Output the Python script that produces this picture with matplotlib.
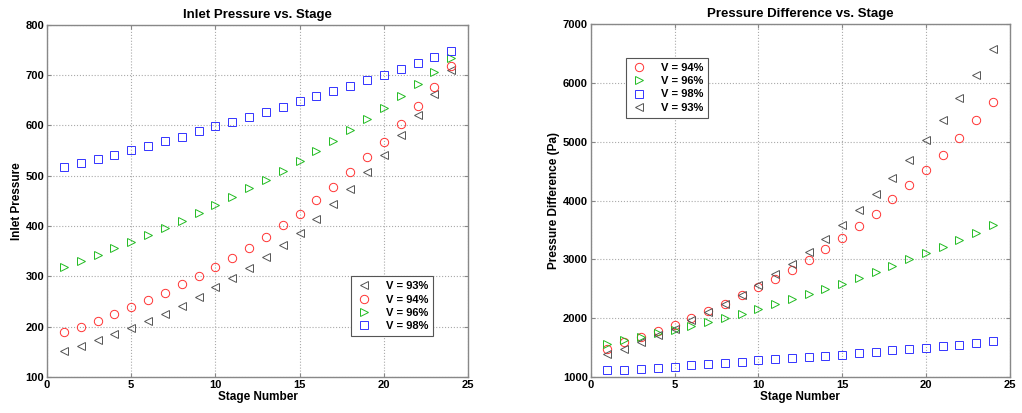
import matplotlib
matplotlib.use("Agg")
import matplotlib.pyplot as plt

stages = list(range(1, 25))

inlet_93 = [151, 161, 173, 186, 198, 211, 226, 242, 259, 278, 297, 317, 338, 363, 387, 414, 443, 474, 507, 542, 580, 621, 663, 710]
inlet_94 = [189, 200, 212, 225, 239, 253, 268, 284, 300, 318, 337, 357, 379, 402, 425, 451, 478, 507, 537, 568, 602, 639, 677, 718]
inlet_96 = [319, 331, 343, 356, 369, 383, 397, 411, 426, 442, 458, 475, 492, 510, 529, 549, 569, 590, 612, 634, 658, 682, 707, 733]
inlet_98 = [517, 525, 533, 542, 551, 560, 569, 578, 588, 598, 607, 617, 627, 637, 648, 658, 668, 679, 690, 701, 712, 724, 735, 748]

diff_93 = [1397, 1482, 1596, 1709, 1822, 1976, 2106, 2248, 2390, 2560, 2758, 2928, 3127, 3343, 3592, 3836, 4108, 4386, 4687, 5027, 5368, 5736, 6133, 6576]
diff_94 = [1482, 1596, 1681, 1777, 1890, 2004, 2123, 2248, 2390, 2531, 2673, 2826, 2997, 3184, 3371, 3575, 3779, 4018, 4256, 4511, 4772, 5067, 5368, 5680]
diff_96 = [1556, 1624, 1681, 1754, 1800, 1862, 1936, 2010, 2078, 2151, 2236, 2322, 2407, 2492, 2588, 2690, 2781, 2889, 3002, 3110, 3218, 3337, 3456, 3587]
diff_98 = [1113, 1125, 1142, 1159, 1176, 1199, 1216, 1238, 1255, 1284, 1301, 1318, 1340, 1363, 1380, 1408, 1431, 1454, 1471, 1494, 1527, 1545, 1573, 1607]

labels = ["V = 93%", "V = 94%", "V = 96%", "V = 98%"]

plt.rcParams['font.family'] = ['Liberation Sans', 'DejaVu Sans']
plt.rcParams['font.weight'] = 'bold'

c93, c94, c96, c98 = '#555555', '#ff3333', '#22bb22', '#3333ff'
ms = 6
mew = 0.7

fig = plt.figure(figsize=(10.22, 4.13), dpi=100)
ax1 = fig.add_axes([0.046, 0.087, 0.412, 0.853])
ax2 = fig.add_axes([0.578, 0.087, 0.410, 0.855])

def style(ax):
    ax.grid(True, linestyle=':', color='#aaaaaa', linewidth=0.8)
    for s in ax.spines.values():
        s.set_color('#888888')
        s.set_linewidth(1.0)
    ax.tick_params(direction='in', labelsize=8, length=3, color='#888888',
                   top=True, right=True, pad=2)
    for lab in ax.get_xticklabels() + ax.get_yticklabels():
        lab.set_fontweight('bold')
    ax.set_xlim(0, 25)
    ax.set_xticks([0, 5, 10, 15, 20, 25])

kw = dict(linestyle='none', markerfacecolor='none', markersize=ms, markeredgewidth=mew)
ax1.plot(stages, inlet_93, marker='<', color=c93, label=labels[0], **kw)
ax1.plot(stages, inlet_94, marker='o', color=c94, label=labels[1], **kw)
ax1.plot(stages, inlet_96, marker='>', color=c96, label=labels[2], **kw)
ax1.plot(stages, inlet_98, marker='s', color=c98, label=labels[3], **kw)
ax1.set_ylim(100, 800)
ax1.set_yticks(range(100, 801, 100))
style(ax1)
ax1.set_title("Inlet Pressure vs. Stage", fontsize=9.5, fontweight='bold', pad=5)
ax1.set_xlabel("Stage Number", fontsize=8.5, fontweight='bold', labelpad=1)
ax1.set_ylabel("Inlet Pressure", fontsize=8.5, fontweight='bold', labelpad=2)
leg1 = ax1.legend(loc='lower right', bbox_to_anchor=(0.93, 0.1), fontsize=8, fancybox=False,
                  edgecolor='#555555', framealpha=1, handletextpad=1.2, borderpad=0.45,
                  labelspacing=0.3, handlelength=1.5)
leg1.get_frame().set_linewidth(0.8)

ax2.plot(stages, diff_94, marker='o', color=c94, label=labels[1], **kw)
ax2.plot(stages, diff_96, marker='>', color=c96, label=labels[2], **kw)
ax2.plot(stages, diff_98, marker='s', color=c98, label=labels[3], **kw)
ax2.plot(stages, diff_93, marker='<', color=c93, label=labels[0], **kw)
ax2.set_ylim(1000, 7000)
ax2.set_yticks(range(1000, 7001, 1000))
style(ax2)
ax2.set_title("Pressure Difference vs. Stage", fontsize=9.5, fontweight='bold', pad=5)
ax2.set_xlabel("Stage Number", fontsize=8.5, fontweight='bold', labelpad=1)
ax2.set_ylabel("Pressure Difference (Pa)", fontsize=8.5, fontweight='bold', labelpad=2)
leg2 = ax2.legend(loc='upper left', bbox_to_anchor=(0.07, 0.92), fontsize=8, fancybox=False,
                  edgecolor='#555555', framealpha=1, handletextpad=1.2, borderpad=0.45,
                  labelspacing=0.3, handlelength=1.5)
leg2.get_frame().set_linewidth(0.8)

fig.savefig("out.png", dpi=100)
